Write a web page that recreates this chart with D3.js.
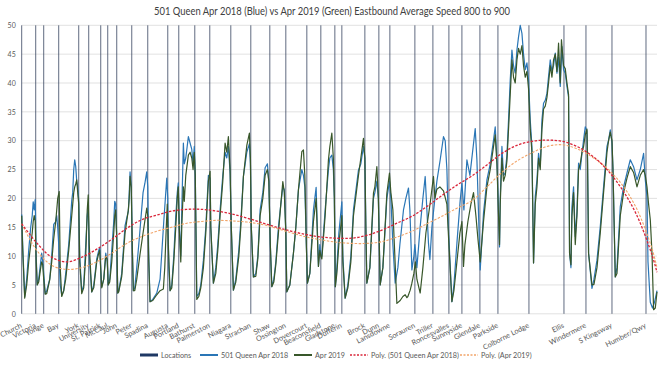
<!DOCTYPE html>
<html><head><meta charset="utf-8">
<script src="https://cdn.jsdelivr.net/npm/d3@7"></script>
<style>body{margin:0;background:#fff}svg{display:block}text{font-family:Lato,"Open Sans",sans-serif}</style>
</head><body><svg id="c" width="660" height="367"></svg>
<script>
const title = "501 Queen Apr 2018 (Blue) vs Apr 2019 (Green) Eastbound Average Speed 800 to 900";
const yTicks = [0,5,10,15,20,25,30,35,40,45,50];
const locationNames = ["Church","Victoria","Yonge","Bay","York","University","St. Patrick","McCaul","John","Peter","Spadina","Augusta","Portland","Bathurst","Palmerston","Niagara","Strachan","Shaw","Ossington","Dovercourt","Beaconsfield","Gladstone","Dufferin","Brock","Dunn","Lansdowne","Sorauren","Triller","Roncesvalles","Sunnyside","Glendale","Parkside","Colborne Lodge","Ellis","Windermere","S Kingsway","Humber/Qwy"];
const locationPos = [0,14,22,37,57,67,79,86,95,110,126,146,157,173,188,209,229,248,264,285,299,313,320,343,357,368,393,411,427,440,458,476,507,542,564,590,624];
const seriesNames = ["Locations","501 Queen Apr 2018","Apr 2019","Poly. (501 Queen Apr 2018)","Poly. (Apr 2019)"];

const blue2018 = [[0,17.2],[1,12],[3,3.0],[5,6],[7,11],[9,15],[10.5,17],[11.5,19.4],[12.5,18],[13.5,19.8],[14.5,10],[15.5,5],
[17,6],[19,9],[20,10.5],[21,9],[22,7],[23.5,3.5],
[25,4],[28,6],[30,10],[32,15.5],[34,16],[35,17],[36,15],[37,12],[38.5,5],
[40,3.2],[42,4],[44,7],[47,12],[50,19.6],[51,21],[52,25],[53,26.7],[54,25.5],[55,23],[56,22],[57,19.7],[58,10],[60,3.8],
[62,5],[64,12],[65.5,17],[66.5,18.5],[67.5,10],[70,3.8],
[72,5],[75,9.5],[77,11],[78,11.5],[79.5,6],[80,4.7],
[82,6],[84,10.5],[85.5,9],[86.5,5],
[88,6],[90,11],[92,16],[93,19.5],[94,19],[95,13],[96,3.6],
[97,4],[100,7],[103.3,15.3],[106.6,17.8],[107.5,21],[108.3,24.6],[109.5,22],[110.5,12],[111.6,4],
[113,4.5],[115,8],[118,14],[121.3,21],[123,22.5],[125,24.6],[126,22],[127,10],[128.3,2.1],
[131,2.5],[135,3.6],[138.3,6],[140,10.5],[142,16],[144,21],[145,23.5],[146,20],[147,8],[148.3,4],
[150,5],[152,10],[154,17],[155.5,21],[156.5,22.7],[157.5,15],[159,10],
[160,18],[161.6,29.6],[162.5,26],[164,27],[166.6,30.7],[168.3,29.6],[170,28.5],[171.3,26],[172.5,29],[173.5,24],[175,3],
[177,3.5],[179,5],[181.6,9.3],[184,15],[186.6,24],[188.3,23.5],[189,15],[191.6,5.3],
[194,8],[196,12],[198.3,18],[201,24],[203.3,28],[205,27],[206.6,29],[208.3,24.4],[209.5,15],[211.6,4.1],
[214,6],[217,11],[219,16],[221.6,23.8],[225,28],[227.6,29.5],[228.6,26],[229.5,15],[231.6,6.4],
[234,7],[236,10],[238.3,18],[241,21],[243.3,25.3],[245.6,26],[247,23],[248.5,12],[250,4.7],
[252,6],[254,9],[256.6,15],[259,19],[261,22],[262.5,21.5],[264,14],[265,3.8],
[268,5],[271.6,10.5],[274,15],[276.6,21.5],[280,25],[281.6,24],[283,22],[284.5,12],[285.6,5.3],
[288,7],[291.6,18],[294.3,21.9],[296.6,8.2],[298,12],[299,10],
[300,10],[303.3,18],[306.6,25],[308,27],[310,27.5],[311.5,25],[312.5,20],[313.5,4.7],
[315,8],[317,14],[320,19.4],[321,10],[323.3,2.7],
[326,5],[329,10],[331.6,18],[336.6,24.9],[339,26],[341.6,29],[343,27],[344,15],[345,5.3],
[348,8],[351.6,20],[353,21],[355,23],[356.5,20],[358.3,5],
[361,8],[365,20],[367.6,23],[369,20],[371,12],[373.3,5.3],
[376,8],[378,12],[381.6,18],[384,20],[386.6,21.8],[388,18],[390,7.6],[392,10],[393,12],[395,8],[398.3,15.1],[401,20],[403.3,23.8],[405,18],[406.6,12.2],[408,9.4],[410,15],
[413,20],[415,23],[418.3,26.7],[421.6,30.7],[423.3,30],[425,25],[426.5,15],[430,2.1],
[432,5],[435,12.2],[438.3,19.7],[440,22.6],
[442,18],[445,26.7],[448,24],[451.6,29.5],[453.3,32.1],[455,26.7],[456.5,18],[458.3,7.6],
[461.6,17.5],[465,23.2],[468.3,26],[471.6,30.1],[473.3,32.4],[475,26.7],[476.6,17.5],[477.6,11.6],
[478.3,20],[480,29],[481.6,24],[483.3,24.4],[485,27.5],[486.6,33.6],[488.3,40.5],[490,45.7],[491.6,43],[493.3,41.7],[495,45.7],[496.6,48],[498.3,50],[500,48.6],[501.6,45],[503.3,42.3],[505,43.5],[506.6,40.5],[508.3,33.6],[510,29],[511.6,8.8],
[513.3,20.3],[515,23.2],[516.6,27.8],[518.3,25.5],[520,33.6],[521.6,36.5],[523.3,37],[525,38.2],[526.6,41.1],[528.3,44],[530,42],[531.6,43],[533.3,45.2],[535,41.7],[536.6,44.5],[538.3,39.4],[540,46.3],[541.6,42.3],[543.3,41.7],[545,39.4],[546.6,37.6],[547.6,10.5],
[549,8],[550,18.6],[551.6,22],[553.3,13.4],[555,17.7],[556.6,26.1],[558.3,25],[560,27.8],[561.6,30.1],[563.3,32.4],[565,31.7],[565.6,26.7],[566.6,10.5],
[570,4.4],[572,6],[575,9.3],[578.3,15.1],[581.6,22],[585,29],[586.6,30.1],[588.3,31.9],[590,29.6],[591,24.9],[593.3,6.4],
[595,8],[598.3,18.6],[601.6,22],[605,24.4],[608.3,26.7],[611.6,25.5],[615,23.2],[618.3,25],[621.6,27.8],[623.3,23.2],[625,20.3],[626,9],[628.3,2],[630.5,1],[632.5,2],[635,4]];

const green2019 = [[0,17],[1,11],[3,2.7],[5,5],[7,9],[9,12],[10.5,14],[11.5,16],[12.5,17],[13.5,16],[14.5,9],[15.5,5],
[17,5.5],[19,8],[20,9],[21,8.5],[22,6],[23.5,3.4],
[25,3.5],[28,5.9],[30,9],[32,13],[34,16],[35,18],[36,20],[37.5,21.2],[38.5,8],
[40,3],[42,4],[44,6],[47,11],[50,17],[51,19],[52,21],[53,22],[54,22.5],[55,23.2],[56,21],[57,19],[58,9],[60,3.5],
[62,4.5],[64,10],[65.5,18],[66.5,20.6],[67.5,12],[70,3.8],
[72,4.5],[75,9],[77,10.5],[78,11],[79.5,6],[80,4.5],
[82,6],[84,10],[85.5,9.5],[86.5,5],
[88,5.5],[90,9],[92,14],[93,17],[94,18],[95,13],[96,3.6],
[97,3.8],[100,6.5],[103.3,14],[106.6,18],[107.5,20],[108.3,23.8],[109.5,22],[110.5,12],[111.6,4],
[113,4],[115,6],[118,10],[121.3,14],[123,16],[125,18.3],[126,17],[127,9],[128.3,2.1],
[131,2.3],[135,3.3],[138.3,4],[141.6,4.3],[143,8],[144.5,15],[145.5,19],[146.5,12],[148.3,4],
[150,4.5],[152,9],[154,15],[155.5,20],[156.5,22],[157.5,15],[159,9],
[160,15],[161.6,22],[162.5,19.5],[164,24],[166.6,27.5],[168.3,28],[170,27],[171.3,25],[172.5,28],[173.5,24],[175,2.5],
[177,3],[179,4.5],[181.6,8],[184,14],[186.6,23],[188.3,24.7],[189,15],[191.6,5.3],
[194,7],[196,11],[198.3,17],[201,23],[203.3,29.6],[205,28],[206.6,30.7],[208.3,25],[209.5,15],[211.6,4.1],
[214,5.5],[217,10],[219,15],[221.6,23.8],[225,29.2],[227.6,31.3],[228.6,27],[229.5,15],[231.6,6.4],
[234,6.5],[236,9.5],[238.3,17],[241,20],[243.3,24],[245.6,25],[247,23],[248.5,12],[250,4.7],
[252,5.5],[254,8.5],[256.6,14],[259,19],[261,22.9],[262.5,21],[264,14],[265,3.8],
[268,5],[271.6,10.5],[274,15],[276.6,21.5],[280,28.1],[281.6,28.4],[283,24],[284.5,12],[285.6,5.3],
[288,7],[291.6,16],[294.3,20],[296.6,8.2],[298,11],[299,10],
[300,9.5],[303.3,17],[306.6,26.7],[308,29],[310,31.3],[311.5,27],[312.5,20],[313.5,4.7],
[315,7],[317,12],[320,17],[321,9],[323.3,2.7],
[326,4.5],[329,9],[331.6,17],[336.6,24],[339,27],[341.6,30.4],[343,27],[344,15],[345,5.3],
[348,8],[351.6,20.9],[353,22],[355,25.5],[356.5,20],[358.3,5],
[361,8],[365,20.9],[367.6,24.4],[369,21],[371,18],[375,1.8],
[378.3,2.3],[381,3],[383.3,3.3],[385,2.8],[386,3],[388.3,4.1],[390,5.3],[392,7],[393.5,9],[395,6],[398.3,3.6],[401,8],[404,14],[408.3,19.2],[411.6,23.8],[413,20],[415,21.6],[418,22],[421.6,21.3],[425,19],[427,12],[430,2.1],
[432,4],[435,9],[438,14],[440,16],
[441.6,8.2],[443,12],[446,16],[449,19],[451.6,21],[454,17],[456,13],[458.3,9],
[461.6,16],[465,22],[468.3,25],[471.6,29],[473.3,31],[475,26],[476.6,17],[477.6,12],
[478.3,19],[480,27],[481.6,23],[483.3,24],[485,26.5],[486.6,32],[488.3,38],[490,44],[491.6,41],[493.3,40],[495,44],[496.6,46],[498.3,45],[500,46.5],[501.6,43],[503.3,41],[505,42],[506.6,39],[508.3,32],[510,28],[511.6,8.8],
[513.3,19],[515,22],[516.6,27],[518.3,25],[520,32],[521.6,35.5],[523.3,36],[525,37.5],[526.6,40],[528.3,43],[530,41],[531.6,44],[533.3,45],[535,42],[536.6,46.9],[538.3,40],[539.5,47.5],[541.6,43],[543.3,42.5],[545,40],[546.6,38],[547.6,10.5],
[549,8.5],[550,17],[551.6,21],[553.3,12],[555,17],[556.6,25],[558.3,26],[560,28],[561.6,29],[563.3,31],[565,32],[565.6,26],[566.6,10.5],
[570,5],[572,5.1],[575,8],[578.3,14],[581.6,21],[585,28],[586.6,30],[588.3,31.5],[590,30],[591,25],[593.3,6.4],
[595,7],[598.3,17],[601.6,21],[605,23.5],[608.3,25.5],[611.6,24.5],[615,22],[618.3,24],[621.6,25],[623.3,24],[625,22],[626.6,19],[628.3,16.3],[630,10.5],[631.6,0.7],[633.3,1],[635,3.8]];

const trendPos = [0,15,30,45,60,75,90,105,120,135,150,165,180,195,210,225,240,255,270,285,300,315,330,345,360,375,390,405,420,435,450,465,480,495,510,525,540,555,570,585,600,615,630,635];
const trend2018 = [15.6,12.3,9.8,9.0,9.8,11.2,12.9,14.8,16.3,17.1,17.8,18.1,18.1,17.8,17.3,16.6,15.8,15.0,14.3,13.7,13.3,13.1,13.1,13.6,14.5,15.7,16.9,18.6,20.5,22.3,23.9,25.8,27.8,29.2,29.9,30.1,29.9,29.0,27.4,25.0,21.6,17.0,10.2,7.2];
const trend2019 = [15.6,11.0,8.4,7.7,8.0,9.0,10.5,12.2,13.4,14.3,15.0,15.7,16.0,16.2,16.1,15.9,15.5,14.8,14.0,13.3,12.8,12.4,12.2,12.2,12.5,13.3,14.3,15.6,16.9,18.3,19.6,22.0,24.5,26.5,27.9,29.0,29.3,28.6,27.2,25.2,22.4,18.1,11.3,8.0];

const svg = d3.select("#c");
const x = d3.scaleLinear().domain([0,635]).range([21.7,657]);
const y = d3.scaleLinear().domain([0,50]).range([313.8,25.3]);

svg.append("text").attr("x",332).attr("y",15).attr("text-anchor","middle")
  .attr("font-size",10.5).attr("fill","#404040").attr("textLength",356).attr("lengthAdjust","spacingAndGlyphs").text(title);

svg.append("g").selectAll("line").data(yTicks).join("line")
  .attr("x1",x(0)).attr("x2",x(635)).attr("y1",d=>y(d)).attr("y2",d=>y(d))
  .attr("stroke","#d9d9d9").attr("stroke-width",0.8);

const yAxis = svg.append("g").attr("transform",`translate(${x(0)},0)`)
  .call(d3.axisLeft(y).tickValues(yTicks).tickSize(0).tickPadding(6));
yAxis.select(".domain").remove();
yAxis.selectAll("text").attr("fill","#595959").attr("font-size",7).attr("font-family","Lato,sans-serif");

const xAxis = svg.append("g").attr("transform",`translate(0,${y(0)})`)
  .call(d3.axisBottom(x).tickValues(locationPos).tickFormat((d,i)=>locationNames[i]).tickSize(0));
xAxis.select(".domain").remove();
xAxis.selectAll("text").attr("fill","#595959").attr("font-size",7.3).attr("font-family","Lato,sans-serif")
  .attr("text-anchor","end").attr("x",0).attr("y",0).attr("dy","0.35em")
  .attr("transform","translate(-1,11) rotate(-27)");

svg.append("g").selectAll("line").data(locationPos).join("line")
  .attr("x1",d=>x(d)).attr("x2",d=>x(d)).attr("y1",y(0)).attr("y2",y(50))
  .attr("stroke","#2b3a55").attr("stroke-opacity",0.75).attr("stroke-width",1);

const line = d3.line().x(d=>x(d[0])).y(d=>y(d[1]));
svg.append("path").datum(blue2018).attr("d",line).attr("fill","none").attr("stroke","#2a76b6").attr("stroke-width",1.2).attr("stroke-linejoin","round");
svg.append("path").datum(green2019).attr("d",line).attr("fill","none").attr("stroke","#38572a").attr("stroke-width",1.2).attr("stroke-linejoin","round");

const tline = d3.line().x(d=>x(d[0])).y(d=>y(d[1])).curve(d3.curveCatmullRom);
svg.append("path").datum(trendPos.map((p,i)=>[p,trend2019[i]])).attr("d",tline).attr("fill","none")
  .attr("stroke","#f2a56a").attr("stroke-width",1.1).attr("stroke-dasharray","2.5,1.5");
svg.append("path").datum(trendPos.map((p,i)=>[p,trend2018[i]])).attr("d",tline).attr("fill","none")
  .attr("stroke","#d9263a").attr("stroke-width",1.3).attr("stroke-dasharray","2.5,1.5");

const legendX = [140,200,294,350,460];
const legendStyle = [
  {stroke:"#1f3864",w:3,dash:null},
  {stroke:"#2a76b6",w:2,dash:null},
  {stroke:"#38572a",w:2,dash:null},
  {stroke:"#d9263a",w:1.5,dash:"2,1.5"},
  {stroke:"#f2a56a",w:1.5,dash:"2,1.5"}];
const lg = svg.append("g").selectAll("g").data(seriesNames).join("g")
  .attr("transform",(d,i)=>`translate(${legendX[i]},355)`);
lg.append("line").attr("x1",0).attr("x2",18).attr("y1",0).attr("y2",0)
  .attr("stroke",(d,i)=>legendStyle[i].stroke).attr("stroke-width",(d,i)=>legendStyle[i].w)
  .attr("stroke-dasharray",(d,i)=>legendStyle[i].dash);
lg.append("text").attr("x",21).attr("y",0).attr("dy","0.35em").attr("font-size",7.2).attr("fill","#595959").text(d=>d);
</script></body></html>
